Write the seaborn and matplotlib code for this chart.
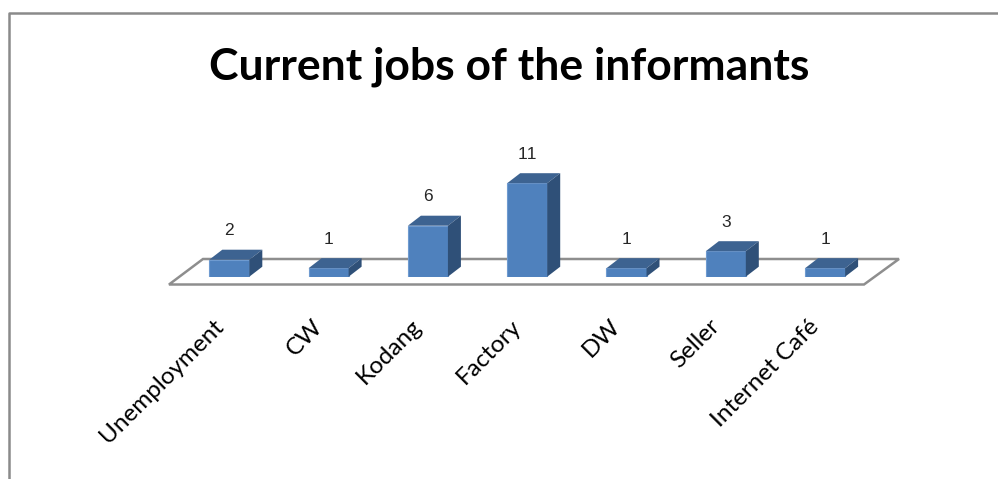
import matplotlib
matplotlib.use('Agg')
import matplotlib.pyplot as plt
from matplotlib.lines import Line2D
from matplotlib.patches import Polygon
from matplotlib.transforms import ScaledTranslation
import pandas as pd
import seaborn as sns

# Values
jobs = ['Unemployment', 'CW', 'Kodang', 'Factory', 'DW', 'Seller', 'Internet Café']
counts = [2, 1, 6, 11, 1, 3, 1]

W, H = 998, 479
df = pd.DataFrame({'job': jobs, 'count': counts})

sns.set_theme(style='white')
plt.rcParams['font.family'] = ['Lato', 'DejaVu Sans']
plt.rcParams['text.kerning_factor'] = 6  # keeps the "11" label from collapsing

fig = plt.figure(figsize=(W / 100, H / 100), dpi=100)
ax = fig.add_axes([179.65 / W, (H - 276.7) / H, 695.1 / W, 119 / H])

sns.barplot(data=df, x='job', y='count', color='#4F81BD', saturation=1, width=0.403,
            edgecolor='#6F9BD0', linewidth=0.8, ax=ax, zorder=3)
ax.set_xlim(-0.5, 6.5)
ax.set_ylim(0, 14)
ax.axis('on')
ax.patch.set_alpha(0)
sns.despine(ax=ax, left=True, bottom=True)
ax.set_xlabel('')
ax.set_ylabel('')
ax.set_yticks([])
ax.tick_params(axis='x', length=0, pad=28)
shift = ScaledTranslation(-17 / 100, 0, fig.dpi_scale_trans)
for lab in ax.get_xticklabels():
    lab.set_transform(lab.get_transform() + shift)
plt.setp(ax.get_xticklabels(), rotation=45, ha='right', rotation_mode='anchor', fontsize=17.5, color='black')

# fake 3D depth of the bars, 13 px right and 10 px up
dx = 13 / 99.3
dy = 10 / 8.5
for bar in ax.patches[:]:
    x0, w, h = bar.get_x(), bar.get_width(), bar.get_height()
    x1 = x0 + w
    ax.add_patch(Polygon([(x0, h), (x1, h), (x1 + dx, h + dy), (x0 + dx, h + dy)],
                         facecolor='#3D6391', edgecolor='none', zorder=3, clip_on=False))
    ax.add_patch(Polygon([(x1, 0), (x1 + dx, dy), (x1 + dx, h + dy), (x1, h)],
                         facecolor='#2F5078', edgecolor='none', zorder=3, clip_on=False))

# floor of the chart
floor_x = [(169 - 179.65) / 99.3 - 0.5, (864 - 179.65) / 99.3 - 0.5,
           (899 - 179.65) / 99.3 - 0.5, (203 - 179.65) / 99.3 - 0.5]
floor_y = [-7.8 / 8.5, -7.8 / 8.5, 17.7 / 8.5, 17.7 / 8.5]
ax.add_patch(Polygon(list(zip(floor_x, floor_y)), closed=True, facecolor='white',
                     edgecolor='#8E8E8E', linewidth=1.8, zorder=1, clip_on=False))

ax.bar_label(ax.containers[0], labels=[str(c) for c in counts], padding=15.5,
             fontsize=12.5, color='#262626', family='Liberation Sans')

fig.text(509 / W, 1 - 67 / H, 'Current jobs of the informants', ha='center', va='center',
         fontsize=32, fontweight='bold', color='black')

# chart frame, only top and left are in the crop
fig.add_artist(Line2D([9 / W, 9 / W, 1], [0, 1 - 13 / H, 1 - 13 / H], color='#8A8A8A', linewidth=1.8))

fig.savefig('out.png', dpi=100)
